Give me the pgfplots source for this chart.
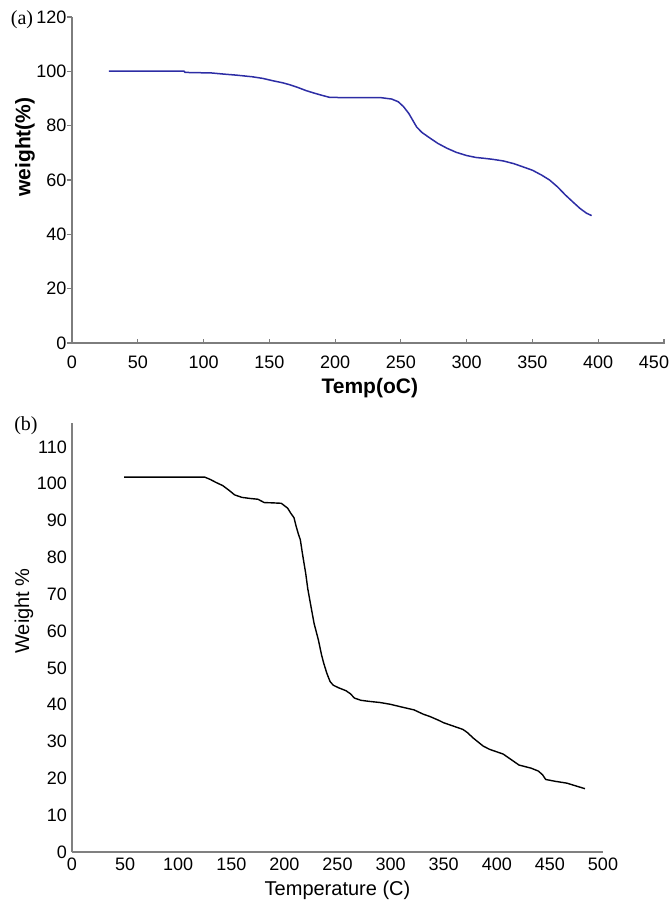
\documentclass[border=0pt]{standalone}
\usepackage{fontspec}
\setmainfont{Liberation Sans}
\newfontfamily\serifpanel{Liberation Serif}
\usepackage{pgfplots}
\pgfplotsset{compat=1.18}

\definecolor{tgablue}{RGB}{45,45,165}
\definecolor{axgray}{RGB}{125,125,125}

\pgfplotsset{
  tga axis/.style={
      scale only axis,
      axis lines=left,
      axis line style={-, axgray, line width=1.3pt},
      /pgf/number format/assume math mode=true,
      tick label style={font=\fontsize{18}{18}\selectfont},
      clip=false,
    }
}

\begin{document}
\begin{tikzpicture}
  \useasboundingbox (0,0) rectangle (671pt,-902pt);

  % ------------------------------------------------------------------
  % (a) TGA, blue curve
  % ------------------------------------------------------------------
  \begin{axis}[
      tga axis,
      at={(72pt,-343pt)},
      anchor=south west,
      width=592pt,
      height=326pt,
      xmin=0, xmax=450,
      ymin=0, ymax=120,
      xtick={0,50,...,450},
      xticklabels={0,50,100,150,200,250,300,350,400,\hspace*{-20pt}450},
      ytick={0,20,...,120},
      tick align=outside,
      major tick length=5pt,
      tick style={axgray, line width=1.1pt},
      x tick style={yshift=4pt},
      xticklabel style={inner sep=0pt, yshift=-8pt},
      yticklabel style={inner sep=0.5pt},
      xlabel={\bfseries Temp(oC)},
      ylabel={\bfseries weight(\%)},
      label style={font=\fontsize{21}{21}\selectfont},
      xlabel style={at={(axis description cs:0.503,0)}, anchor=north, inner sep=0pt, yshift=-35pt},
      ylabel style={at={(axis description cs:0,0.601)}, anchor=center, inner sep=0pt, yshift=47pt},
    ]
    \addplot[tgablue, line width=1.5pt] coordinates {
        (28,100.1) (85,100.1) (86,99.6) (106,99.4) (115,99.0) (125,98.6)
        (137,98.0) (145,97.4) (153,96.5) (160,95.8) (166,95.0) (172,94.0)
        (178,92.9) (184,92.0) (189,91.3) (196,90.4) (215,90.3) (235,90.3)
        (243,89.8) (248,88.8) (252,87.0) (256,84.5) (259,82.0) (262,79.5)
        (266,77.5) (271,75.8) (278,73.5) (285,71.7) (292,70.2) (300,69.0)
        (307,68.3) (313,68.0) (320,67.6) (328,67.0) (336,66.0) (343,64.8)
        (350,63.6) (357,61.8) (363,60.0) (369,57.5) (375,54.5) (381,51.8)
        (386,49.6) (391,47.8) (395,46.9)
      };
  \end{axis}
  \node[font=\serifpanel\fontsize{20}{20}\selectfont, inner sep=0pt] at (22pt,-20pt) {(a)};

  % ------------------------------------------------------------------
  % (b) TGA, black curve
  % ------------------------------------------------------------------
  \begin{axis}[
      tga axis,
      at={(72pt,-852pt)},
      anchor=south west,
      width=531pt,
      height=429pt,
      xmin=0, xmax=500,
      ymin=0, ymax=116.5,
      xtick={0,50,...,500},
      ytick={0,10,...,110},
      major tick length=0pt,
      axis line style={-, black!50, line width=1.1pt},
      xticklabel style={inner sep=0pt, yshift=-6pt},
      yticklabel style={inner sep=0pt, xshift=-5pt},
      xlabel={Temperature (C)},
      ylabel={Weight \%},
      label style={font=\fontsize{20}{20}\selectfont},
      xlabel style={at={(axis description cs:0.5,0)}, anchor=north, inner sep=0pt, yshift=-29pt},
      ylabel style={at={(axis description cs:0,0.562)}, anchor=center, inner sep=0pt, yshift=48pt},
    ]
    \addplot[black, line width=1.4pt] coordinates {
        (49,101.8) (125,101.8) (130,101.2) (136,100.3) (142,99.5) (148,98.2)
        (153,97.0) (160,96.3) (168,96.0) (175,95.8) (181,94.9) (190,94.8)
        (197,94.7) (203,93.4) (206,92.0) (209,90.8) (211,88.5) (213,86.5)
        (215,84.8) (217,81.0) (220,75.8) (222,71.5) (225,66.7) (228,62.0)
        (232,57.6) (235,53.5) (237,51.3) (240,48.5) (243,46.3) (246,45.3)
        (251,44.6) (258,43.8) (262,43.0) (266,41.8) (272,41.2) (280,40.9)
        (290,40.6) (300,40.1) (310,39.4) (316,39.0) (322,38.6) (331,37.4)
        (337,36.8) (345,35.8) (350,35.1) (360,34.1) (368,33.3) (372,32.5)
        (378,30.9) (387,28.8) (393,27.9) (406,26.6) (413,25.2) (421,23.6)
        (432,22.8) (439,22.0) (443,21.0) (446,19.7) (455,19.2) (466,18.7)
        (475,17.9) (483,17.2)
      };
  \end{axis}
  \node[font=\serifpanel\fontsize{20}{20}\selectfont, inner sep=0pt] at (26pt,-426pt) {(b)};
\end{tikzpicture}
\end{document}
